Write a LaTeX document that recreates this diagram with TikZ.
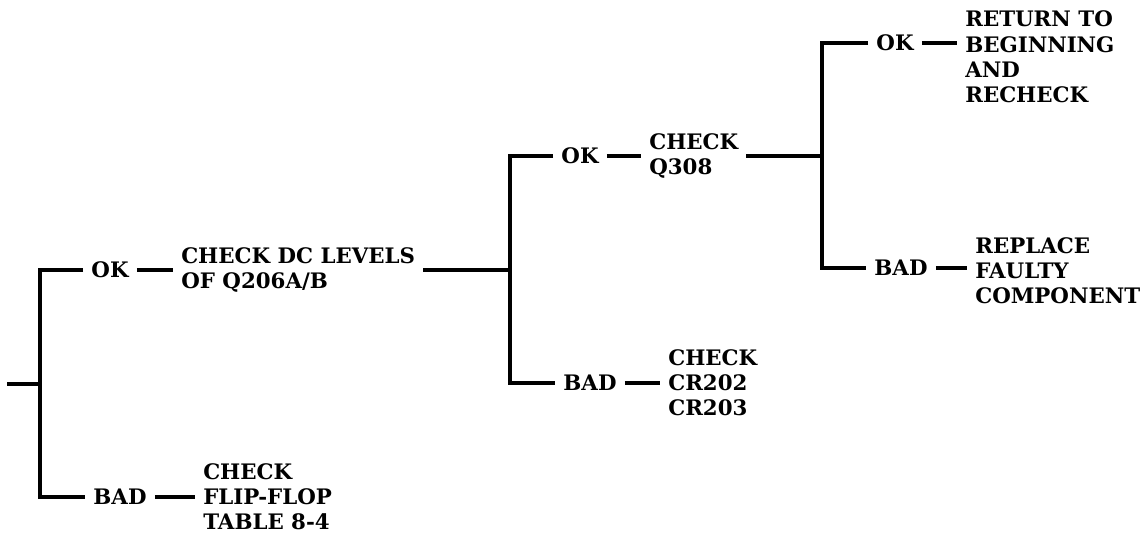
\documentclass[tikz,border=0pt]{standalone}
\usepackage{fontspec}
\setmainfont{DejaVu Serif}
\begin{document}
\begin{tikzpicture}[x=0.75pt,y=-0.75pt,
  conn/.style={line width=2.7pt},
  lab/.style={font=\fontsize{16}{18.9}\selectfont\bfseries, inner xsep=6pt, inner ysep=0pt},
  res/.style={lab, align=left, anchor=west}]
\useasboundingbox (0,0) rectangle (1143,535);
% level 0
\coordinate (r0) at (7,384);
\coordinate (j0) at (40,384);
\node[lab] (ok1) at (110,270) {OK};
\node[lab] (bad1) at (120,497) {BAD};
\node[res] (dc) at (173,270) {CHECK DC LEVELS\\OF Q206A/B};
\node[res] (ff) at (195,497) {CHECK\\FLIP-FLOP\\TABLE 8-4};
% level 1
\coordinate (j1) at (510,270);
\node[lab] (ok2) at (580,156) {OK};
\node[lab] (bad2) at (590,383) {BAD};
\node[res] (q308) at (641,156) {CHECK\\Q308};
\node[res] (cr) at (660,383) {CHECK\\CR202\\CR203};
% level 2
\coordinate (j2) at (822,156);
\node[lab] (ok3) at (895,43) {OK};
\node[lab] (bad3) at (901,268) {BAD};
\node[res] (ret) at (957,57) {RETURN TO\\BEGINNING\\AND\\RECHECK};
\node[res] (rep) at (967,271) {REPLACE\\FAULTY\\COMPONENT};
% connectors
\draw[conn] (r0) -- (j0);
\draw[conn] (ok1.west) -| (j0) |- (bad1.west);
\draw[conn] (ok1.east) -- (dc.west);
\draw[conn] (bad1.east) -- (ff.west);
\draw[conn] (dc.east) -- (j1);
\draw[conn] (ok2.west) -| (j1) |- (bad2.west);
\draw[conn] (ok2.east) -- (ok2.east -| q308.west);
\draw[conn] (bad2.east) -- (cr.west);
\draw[conn] (q308.east |- j2) -- (j2);
\draw[conn] (ok3.west) -| (j2) |- (bad3.west);
\draw[conn] (ok3.east) -- (ok3.east -| ret.west);
\draw[conn] (bad3.east) -- (bad3.east -| rep.west);
\end{tikzpicture}
\end{document}
